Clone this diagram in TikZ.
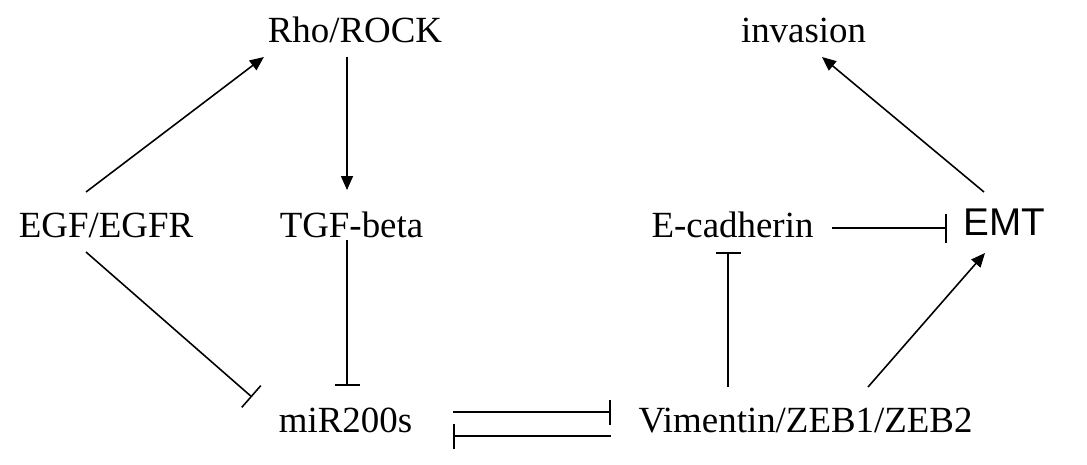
\documentclass[tikz,border=0pt]{standalone}
\usepackage{fontspec}
\setmainfont{Liberation Serif}
\newfontfamily\emtfont{Liberation Sans}
\usetikzlibrary{arrows.meta,calc}
\tikzset{
  lbl/.style={inner sep=0pt, outer sep=0pt, text height=0.5cm, text depth=0.14cm, anchor=base, font=\fontsize{21}{24}\selectfont},
  act/.style={line width=0.9pt, -{Triangle[length=0.28cm, width=0.24cm]}},
  inh/.style={line width=0.9pt, -{Bar[width=0.5cm]}},
  inhw/.style={line width=0.9pt, -{Bar[width=0.58cm]}}
}
\begin{document}
\begin{tikzpicture}[x=0.02cm, y=-0.02cm]
  \useasboundingbox (0,0) rectangle (1087,464);
  \node[lbl] (rho) at (355,42) {Rho/ROCK};
  \node[lbl] (inv) at (803.5,42) {invasion};
  \node[lbl] (egf) at (106,237) {EGF/EGFR};
  \node[lbl] (tgf) at (351.5,237) {TGF-beta};
  \node[lbl] (ecad) at (732.5,237) {E-cadherin};
  \node[lbl, font=\emtfont\fontsize{22}{24}\selectfont] (emt) at (1004.5,235) {EMT};
  \node[lbl] (mir) at (345.5,432) {miR200s};
  \node[lbl] (vim) at (805.5,432) {Vimentin/ZEB1/ZEB2};

  \draw[act] ($(egf.north)+(-20,-20)$) -- ($(rho.south west)+(-4,8)$);
  \draw[act] ($(rho.south)+(-8,8)$) -- ($(tgf.north)+(-4.5,-22)$);
  \draw[inh] ($(tgf.south)+(-4.5,-4)$) -- ($(mir.north)+(1.5,-21)$);
  \draw[inhw] ($(egf.south)+(-20,8)$) -- ($(mir.north west)+(-27,-10)$);
  \draw[inh] ($(mir.base east)+(41,-20)$) -- ($(vim.base west)+(-28,-20)$);
  \draw[inh] ($(vim.base west)+(-28,4)$) -- ($(mir.base east)+(41,4)$);
  \draw[inh] ($(vim.north)+(-77.5,-20)$) -- ($(ecad.south)+(-4.5,8)$);
  \draw[act] ($(vim.north)+(62.5,-20)$) -- ($(emt.south)+(-19.5,11)$);
  \draw[inhw] ($(ecad.base east)+(19,-9)$) -- ($(emt.base west)+(-17,-7)$);
  \draw[act] ($(emt.north)+(-20.5,-18)$) -- ($(inv.south)+(18.5,8)$);
\end{tikzpicture}
\end{document}
